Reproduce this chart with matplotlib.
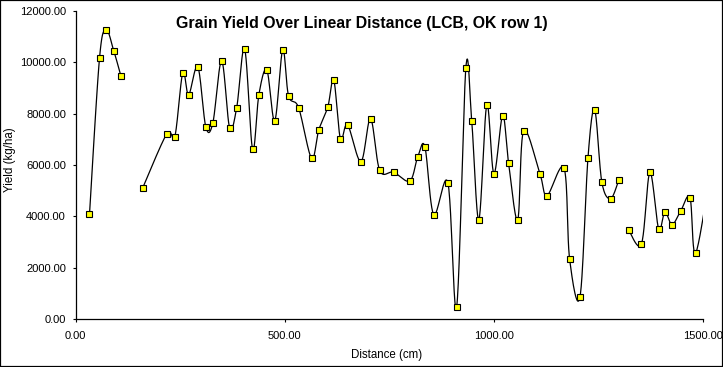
import numpy as np
import matplotlib
matplotlib.use("Agg")
import matplotlib.pyplot as plt
from matplotlib.patches import Rectangle

plt.rcParams['font.family'] = ['Liberation Sans', 'DejaVu Sans']

nan = np.nan

# distance along the row (cm); nan marks a gap in the record
distance = [33, 57, 73, 91, 108, nan,
            160, 218, 237, 256, 270, 292, 311, 328, 349, 368, 385, 404, 423,
            438, 457, 476, 495, 509, 533, 564, 581, 603, 617, 633, 650, 682,
            705, 727, 760, 799, 818, 835, 856, 890, 911, 933, 947, 964, 983,
            1000, 1021, 1035, 1057, 1071, 1110, 1127, 1168, 1181, 1206, 1225,
            1241, 1258, 1279, 1299, nan,
            1322, 1353, 1373, 1394, 1409, 1426, 1447, 1469, 1483, 1525]

# grain yield (kg/ha)
grain_yield = [4090, 10160, 11250, 10440, 9470, nan,
               5100, 7220, 7100, 9590, 8730, 9820, 7490, 7640, 10050, 7450,
               8230, 10520, 6610, 8730, 9700, 7720, 10480, 8690, 8230, 6260,
               7350, 8270, 9320, 7020, 7570, 6130, 7800, 5790, 5720, 5380,
               6320, 6710, 4070, 5310, 490, 9780, 7720, 3870, 8340, 5660,
               7920, 6090, 3870, 7330, 5660, 4810, 5870, 2360, 880, 6280,
               8150, 5350, 4690, 5430, nan,
               3480, 2940, 5710, 3520, 4180, 3680, 4220, 4730, 2590, 6500]

x_ticks = [0, 500, 1000, 1500]
y_ticks = [0, 2000, 4000, 6000, 8000, 10000, 12000]


def smooth(x, y, n=24):
    # Excel-like smoothed line (Catmull-Rom as cubic Bezier)
    pts = np.column_stack([x, y])
    if len(pts) < 3:
        return pts[:, 0], pts[:, 1]
    P = np.vstack([pts[0], pts, pts[-1]])
    t = np.linspace(0, 1, n)[:, None]
    out = []
    for i in range(1, len(P) - 2):
        p0, p1, p2, p3 = P[i - 1], P[i], P[i + 1], P[i + 2]
        c1 = p1 + (p2 - p0) / 6
        c2 = p2 - (p3 - p1) / 6
        seg = ((1 - t) ** 3) * p1 + 3 * (1 - t) ** 2 * t * c1 \
            + 3 * (1 - t) * t ** 2 * c2 + t ** 3 * p2
        out.append(seg)
    out = np.vstack(out)
    return out[:, 0], out[:, 1]


fig = plt.figure(figsize=(7.23, 3.67), dpi=100)
ax = fig.add_axes([0.1047, 0.13, 0.8676, 0.8408])

d = np.array(distance, dtype=float)
g = np.array(grain_yield, dtype=float)
breaks = np.where(np.isnan(g))[0]
starts = np.r_[0, breaks + 1]
ends = np.r_[breaks, len(g)]
for s, e in zip(starts, ends):
    sx, sy = smooth(d[s:e], g[s:e])
    ax.plot(sx, sy, color='black', lw=0.9, zorder=2)

ax.plot(d, g, ls='none', marker='s', ms=4.6, mfc='#ffff00', mec='black',
        mew=0.8, zorder=3)

ax.set_xlim(0, 1500)
ax.set_ylim(0, 12000)
ax.set_xticks(x_ticks)
ax.set_yticks(y_ticks)
ax.set_xticklabels([f"{v:.2f}" for v in x_ticks])
ax.set_yticklabels([f"{v:.2f}" for v in y_ticks])
ax.tick_params(axis='both', direction='out', length=2.5, width=0.8,
               labelsize=8, colors='black')
ax.tick_params(axis='y', pad=4.5)
ax.tick_params(axis='x', pad=6)
ax.spines['top'].set_visible(False)
ax.spines['right'].set_visible(False)
ax.spines['left'].set_linewidth(0.9)
ax.spines['bottom'].set_linewidth(0.9)

fig.text(0.5, 1 - 28.3 / 367, "Grain Yield Over Linear Distance (LCB, OK row 1)",
         ha='center', va='baseline', fontsize=11.4, fontweight='bold')
fig.text(0.534, 1 - 355 / 367, "Distance (cm)", ha='center', va='center',
         fontsize=8.3)
fig.text(0.014, 1 - 159.5 / 367, "Yield (kg/ha)", ha='center', va='center',
         rotation=90, fontsize=8.3)

fig.add_artist(Rectangle((0, 0), 1, 1, transform=fig.transFigure,
                         fill=False, ec='black', lw=1.6))

fig.savefig("out.png", dpi=100)
